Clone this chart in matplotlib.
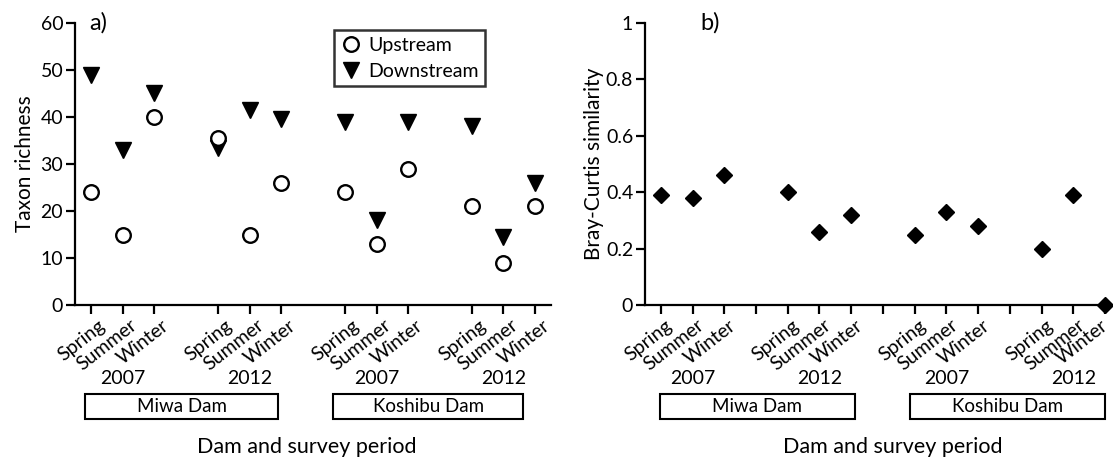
import matplotlib
matplotlib.use("Agg")
import matplotlib.pyplot as plt
from matplotlib.patches import Rectangle
import matplotlib.transforms as mtransforms

plt.rcParams['font.family'] = ['Lato', 'DejaVu Sans']
plt.rcParams['font.size'] = 14

# data
seasons = ["Spring", "Summer", "Winter"] * 4
upstream = [24, 15, 40, 35.5, 15, 26, 24, 13, 29, 21, 9, 21]
downstream = [49, 33, 45, 33.5, 41.5, 39.5, 39, 18, 39, 38, 14.5, 26]
similarity = [0.39, 0.38, 0.46, 0.40, 0.26, 0.32, 0.25, 0.33, 0.28, 0.20, 0.39, 0.0]
years = ["2007", "2012", "2007", "2012"]
dams = ["Miwa Dam", "Koshibu Dam"]

# three seasons per group, one empty slot between groups
pos = [i + i // 3 + 1 for i in range(len(seasons))]
year_pos = [2, 6, 10, 14]

fig = plt.figure(figsize=(11.13, 4.59), dpi=100)
axa = fig.add_axes([0.0674, 0.3355, 0.4277, 0.6144])
axb = fig.add_axes([0.5795, 0.3355, 0.4133, 0.6144])


def style(ax):
    for s in ["top", "right"]:
        ax.spines[s].set_visible(False)
    for s in ["left", "bottom"]:
        ax.spines[s].set_linewidth(1.6)
    ax.tick_params(direction="out", length=6.5, width=1.6, labelsize=14, pad=2)


def lower_labels(ax, box_ranges, xlabel_x):
    tr = mtransforms.blended_transform_factory(ax.transData, ax.transAxes)
    for p, y in zip(year_pos, years):
        ax.text(p, -0.259, y, transform=tr, ha="center", va="center", fontsize=14)
    for (x0, x1), d in zip(box_ranges, dams):
        ax.add_patch(Rectangle((x0, -0.404), x1 - x0, 0.089, transform=tr,
                               fill=False, edgecolor="black", linewidth=1.5,
                               clip_on=False))
        ax.text((x0 + x1) / 2, -0.36, d, transform=tr, ha="center",
                va="center", fontsize=13.5)
    ax.text(xlabel_x, -0.5035, "Dam and survey period", transform=tr,
            ha="center", va="center", fontsize=15.5)


def season_labels(ax, ticks, labels, shift=7):
    ax.set_xticks(ticks)
    ax.set_xticklabels(labels, rotation=38, ha="right", va="top",
                       rotation_mode="anchor", fontsize=14)
    off = mtransforms.ScaledTranslation(shift / 100, 0, fig.dpi_scale_trans)
    for lab in ax.get_xticklabels():
        lab.set_transform(lab.get_transform() + off)


# panel a
style(axa)
axa.plot(pos, upstream, linestyle="none", marker="o", markersize=10.5,
         markerfacecolor="white", markeredgecolor="black",
         markeredgewidth=1.7, label="Upstream", zorder=3)
axa.plot(pos, downstream, linestyle="none", marker="v", markersize=11.5,
         color="black", label="Downstream", zorder=2)
axa.set_xlim(0.5, 15.5)
axa.set_ylim(0, 60)
axa.set_yticks(range(0, 61, 10))
season_labels(axa, pos, seasons)
axa.set_ylabel("Taxon richness", fontsize=15, labelpad=4)
axa.text(0.03, 1.0, "a)", transform=axa.transAxes, fontsize=17, va="center")
leg = axa.legend(loc="upper left", bbox_to_anchor=(0.544, 0.975),
                 frameon=True, fancybox=False, borderaxespad=0,
                 handletextpad=0.3, borderpad=0.35, labelspacing=0.45,
                 fontsize=14, handlelength=1.1)
leg.get_frame().set_edgecolor("black")
leg.get_frame().set_linewidth(1.8)
lower_labels(axa, [(0.82, 6.9), (8.64, 14.63)], 7.8)

# panel b
style(axb)
axb.plot(pos, similarity, linestyle="none", marker="D", markersize=8,
         color="black", clip_on=False, zorder=3)
axb.set_xlim(0.5, 15)
axb.set_ylim(0, 1)
axb.set_yticks([0, 0.2, 0.4, 0.6, 0.8, 1.0])
axb.set_yticklabels(["0", "0.2", "0.4", "0.6", "0.8", "1"])
all_ticks = list(range(1, 16))
all_labels = [seasons[pos.index(t)] if t in pos else "" for t in all_ticks]
season_labels(axb, all_ticks, all_labels, shift=4)
# keep the last label inside the figure
last = axb.get_xticklabels()[-1]
last.set_transform(last.get_transform()
                   + mtransforms.ScaledTranslation(-0.09, 0, fig.dpi_scale_trans))
axb.set_ylabel("Bray-Curtis similarity", fontsize=15, labelpad=1)
axb.text(0.12, 1.0, "b)", transform=axb.transAxes, fontsize=17, va="center")
lower_labels(axb, [(0.96, 7.12), (8.86, 15.0)], 8.3)

fig.savefig("out.png", dpi=100)
